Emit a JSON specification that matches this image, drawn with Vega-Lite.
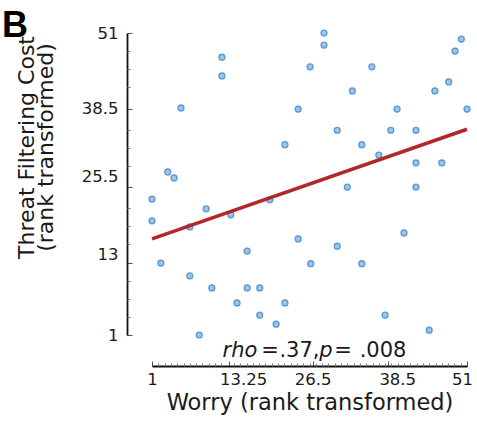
{
  "$schema": "https://vega.github.io/schema/vega-lite/v6.json",
  "width": 315,
  "height": 302,
  "autosize": {"type": "none"},
  "padding": {"left": 152, "top": 33, "right": 10, "bottom": 86},
  "background": "white",
  "config": {"view": {"stroke": null}, "font": "DejaVu Sans", "axis": {"labelOverlap": false, "labelFlush": false, "labelFontSize": 16.5, "labelFont": "DejaVu Sans", "labelColor": "#1a1a1a"}},
  "title": {"text": "B", "anchor": "start", "frame": "group", "fontSize": 36, "fontWeight": "bold", "font": "Liberation Sans", "color": "#000000", "baseline": "alphabetic", "offset": -4, "dx": -150, "dy": 44},
  "resolve": {"axis": {"x": "independent", "y": "independent"}},
  "datasets": {
    "pts": [
      {"worry": 1, "cost": 23.5}, {"worry": 1, "cost": 19.9}, {"worry": 3.5, "cost": 28.0}, {"worry": 4.5, "cost": 27.0},
      {"worry": 2.4, "cost": 12.9}, {"worry": 5.6, "cost": 38.6}, {"worry": 7.0, "cost": 18.9}, {"worry": 7.0, "cost": 10.8},
      {"worry": 8.5, "cost": 1.0}, {"worry": 9.6, "cost": 21.9}, {"worry": 10.5, "cost": 8.8}, {"worry": 12.1, "cost": 47.0},
      {"worry": 12.1, "cost": 43.9}, {"worry": 13.5, "cost": 20.9}, {"worry": 14.5, "cost": 6.3}, {"worry": 16.1, "cost": 14.9},
      {"worry": 16.1, "cost": 8.8}, {"worry": 18.1, "cost": 8.8}, {"worry": 18.1, "cost": 4.3}, {"worry": 19.7, "cost": 23.4},
      {"worry": 20.7, "cost": 2.8}, {"worry": 22.1, "cost": 32.5}, {"worry": 22.1, "cost": 6.3}, {"worry": 24.2, "cost": 38.4},
      {"worry": 24.2, "cost": 16.9}, {"worry": 26.1, "cost": 45.4}, {"worry": 26.2, "cost": 12.8}, {"worry": 28.3, "cost": 51.0},
      {"worry": 28.3, "cost": 49.0}, {"worry": 30.4, "cost": 34.9}, {"worry": 30.4, "cost": 15.7}, {"worry": 32.0, "cost": 25.5},
      {"worry": 32.8, "cost": 41.4}, {"worry": 34.3, "cost": 32.5}, {"worry": 34.3, "cost": 12.8}, {"worry": 35.9, "cost": 45.4},
      {"worry": 37.0, "cost": 30.8}, {"worry": 38.0, "cost": 4.3}, {"worry": 38.9, "cost": 34.9}, {"worry": 39.9, "cost": 38.4},
      {"worry": 41.0, "cost": 17.9}, {"worry": 42.9, "cost": 34.9}, {"worry": 42.9, "cost": 29.5}, {"worry": 42.9, "cost": 25.5},
      {"worry": 45.0, "cost": 1.8}, {"worry": 45.9, "cost": 41.4}, {"worry": 47.0, "cost": 29.5}, {"worry": 48.1, "cost": 42.9},
      {"worry": 49.1, "cost": 48.0}, {"worry": 50.1, "cost": 50.0}, {"worry": 51.0, "cost": 38.4}
    ],
    "ann": [
      {"txt": "rho", "kind": "var", "worry": 14.97, "cost": -2.64},
      {"txt": "=", "kind": "sym", "worry": 19.73, "cost": -2.64},
      {"txt": ".37,", "kind": "sym", "worry": 24.4, "cost": -2.64},
      {"txt": "p", "kind": "var", "worry": 28.62, "cost": -2.64},
      {"txt": "=", "kind": "sym", "worry": 31.32, "cost": -2.64},
      {"txt": ".008", "kind": "sym", "worry": 37.67, "cost": -2.64}
    ]
  },
  "layer": [
    {
      "data": {"name": "pts"},
      "mark": {"type": "circle", "size": 34, "fill": "#9fc5e8", "stroke": "#5b9bd5", "strokeWidth": 1.4, "opacity": 1},
      "encoding": {
        "x": {
          "field": "worry", "type": "quantitative",
          "scale": {"domain": [1, 51], "nice": false, "zero": false},
          "axis": {
            "orient": "bottom",
            "title": "Worry (rank transformed)",
            "offset": 31,
            "grid": false,
            "values": [1, 13.25, 26.5, 38.5, 51],
            "labelExpr": "format(datum.value, '~g')",
            "labelOverlap": false,
            "labelFlush": false,
            "labelOffset": {"condition": [{"test": "datum.value == 13.25", "value": 14}, {"test": "datum.value == 38.5", "value": 9}, {"test": "datum.value == 51", "value": -5}], "value": 0},
            "tickSize": -5,
            "tickColor": "#555555",
            "tickWidth": 1,
            "domainColor": "#111111",
            "domainWidth": 1.8,
            "labelFontSize": 16.5,
            "labelColor": "#1a1a1a",
            "labelPadding": 10,
            "titleFontSize": 22.5,
            "titleFontWeight": "normal",
            "titleColor": "#1a1a1a",
            "titlePadding": 4
          }
        },
        "y": {
          "field": "cost", "type": "quantitative",
          "scale": {"domain": [1, 51], "nice": false, "zero": false},
          "axis": {
            "orient": "left",
            "title": ["Threat Filtering Cost", "(rank transformed)"],
            "offset": 25,
            "grid": false,
            "values": [1, 13, 25.5, 38.5, 51],
            "labelExpr": "format(datum.value, '~g')",
            "labelOverlap": false,
            "labelFlush": false,
            "labelOffset": {"condition": [{"test": "datum.value == 25.5", "value": -11}, {"test": "datum.value == 13", "value": -8}], "value": 0},
            "tickSize": -5,
            "tickColor": "#555555",
            "tickWidth": 1,
            "domainColor": "#111111",
            "domainWidth": 1.8,
            "labelFontSize": 16.5,
            "labelColor": "#1a1a1a",
            "labelPadding": 14,
            "titleFontSize": 22,
            "titleFontWeight": "normal",
            "titleColor": "#1a1a1a",
            "titleLineHeight": 19,
            "titleY": 114,
            "titlePadding": 24
          }
        }
      }
    },
    {
      "data": {"name": "pts"},
      "transform": [{"regression": "cost", "on": "worry", "extent": [1, 51]}],
      "mark": {"type": "line", "color": "#b3262a", "strokeWidth": 3.5},
      "encoding": {
        "x": {"field": "worry", "type": "quantitative",
          "axis": {"orient": "bottom", "offset": 31, "title": null, "labels": false, "domain": false, "grid": false, "tickSize": -3, "tickColor": "#777777", "tickWidth": 1,
            "values": [2,3,4,5,6,7,8,9,10,11,12,14,15,16,17,18,19,20,21,22,23,24,25,26,27,28,29,30,31,32,33,34,35,36,37,38,39,40,41,42,43,44,45,46,47,48,49,50]}},
        "y": {"field": "cost", "type": "quantitative",
          "axis": {"orient": "left", "offset": 25, "title": null, "labels": false, "domain": false, "grid": false, "tickSize": -3, "tickColor": "#777777", "tickWidth": 1,
            "values": [4, 7, 10, 16, 19, 22, 29, 32, 35, 42, 45, 48]}}
      }
    },
    {
      "data": {"name": "ann"},
      "transform": [{"filter": "datum.kind == 'var'"}],
      "mark": {"type": "text", "font": "DejaVu Sans", "fontStyle": "italic", "fontSize": 21, "align": "center", "baseline": "alphabetic", "color": "#1a1a1a"},
      "encoding": {
        "x": {"field": "worry", "type": "quantitative", "axis": null},
        "y": {"field": "cost", "type": "quantitative", "axis": null},
        "text": {"field": "txt"}
      }
    },
    {
      "data": {"name": "ann"},
      "transform": [{"filter": "datum.kind == 'sym'"}],
      "mark": {"type": "text", "font": "DejaVu Sans", "fontSize": 21, "align": "center", "baseline": "alphabetic", "color": "#1a1a1a"},
      "encoding": {
        "x": {"field": "worry", "type": "quantitative", "axis": null},
        "y": {"field": "cost", "type": "quantitative", "axis": null},
        "text": {"field": "txt"}
      }
    }
  ]
}
